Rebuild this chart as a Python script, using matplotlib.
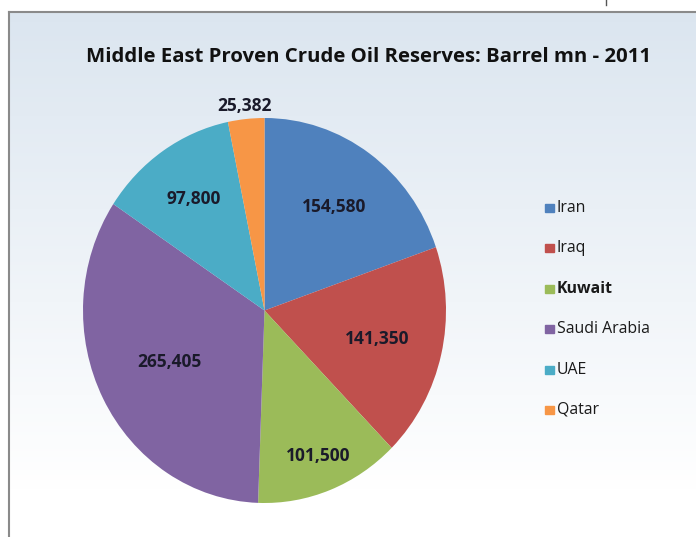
import numpy as np
import matplotlib.pyplot as plt
from matplotlib.patches import Rectangle
from matplotlib.lines import Line2D

countries = ['Iran', 'Iraq', 'Kuwait', 'Saudi Arabia', 'UAE', 'Qatar']
reserves = [154580, 141350, 101500, 265405, 97800, 25382]
colors = ['#4f81bd', '#c0504d', '#9bbb59', '#8064a2', '#4bacc6', '#f79646']
title = 'Middle East Proven Crude Oil Reserves: Barrel mn - 2011'

# distance of each value label from the centre (fraction of radius)
label_r = [0.66, 0.64, 0.81, 0.59, 0.70, 1.07]

W, H = 696, 537
fig = plt.figure(figsize=(W / 100, H / 100), dpi=100)
plt.rcParams['font.family'] = ['Open Sans', 'DejaVu Sans']

# background gradient inside the chart frame
bg = fig.add_axes([0, 0, 1, 1])
bg.set_xlim(0, W)
bg.set_ylim(H, 0)
bg.axis('off')
grad = np.linspace(0, 1, 256).reshape(-1, 1)
top = np.array([0.86, 0.90, 0.94])
bot = np.array([1.0, 1.0, 1.0])
img = top + (bot - top) * np.clip(grad * 1.1, 0, 1)[:, :, None] * np.ones((1, 1, 3))
bg.imshow(img, extent=[9, W, H, 12], aspect='auto', zorder=0)
bg.add_line(Line2D([9, 9], [12, H], color='#8a8a8a', lw=1.5))
bg.add_line(Line2D([9, W], [12, 12], color='#8a8a8a', lw=1.5))
bg.add_line(Line2D([606, 606], [0, 5], color='#555555', lw=1))

bg.text(369, 57, title, ha='center', va='center', fontsize=14.7,
        fontweight='bold', color='#111111')

# pie (slightly elliptical as in the original)
ax = fig.add_axes([83 / W, (H - 503) / H, 363 / W, 385 / H])
wedges, _ = ax.pie(reserves, colors=colors, startangle=90, counterclock=False,
                   radius=1.0, wedgeprops=dict(linewidth=0))
ax.set_aspect('auto')
ax.set_xlim(-1, 1)
ax.set_ylim(-1, 1)

for w, v, r in zip(wedges, reserves, label_r):
    ang = np.deg2rad((w.theta1 + w.theta2) / 2)
    ax.text(r * np.cos(ang), r * np.sin(ang), '{:,}'.format(v),
            ha='center', va='center', fontsize=12.5, fontweight='bold',
            color='#1a1a2a')

# legend
leg_y = [208, 248, 289, 329, 370, 410]
for c, name, y in zip(colors, countries, leg_y):
    bg.add_patch(Rectangle((545, y - 4.5), 8.5, 8.5, color=c))
    bg.text(557, y, name, ha='left', va='center', fontsize=11.4,
            fontweight='bold' if name == 'Kuwait' else 'normal',
            color='#1a1a1a')

plt.savefig('out.png', dpi=100)
